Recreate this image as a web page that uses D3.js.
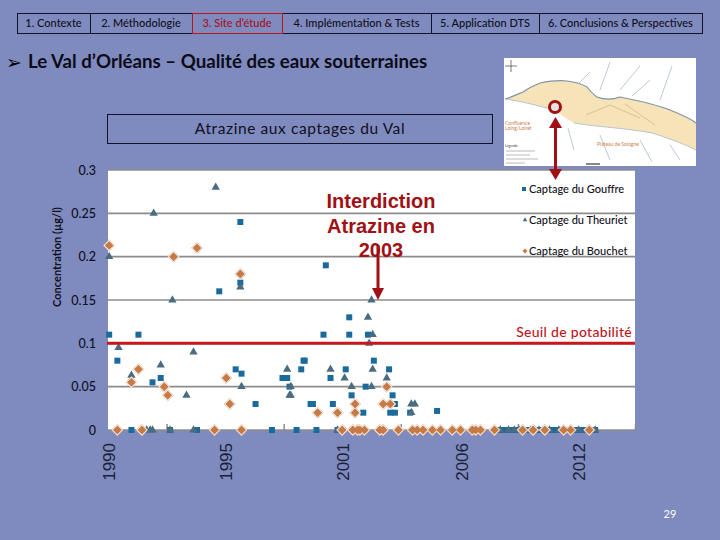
<!DOCTYPE html>
<html>
<head>
<meta charset="utf-8">
<script src="https://cdn.jsdelivr.net/npm/d3@7"></script>
<style>
  html, body { margin: 0; padding: 0; background: #7f8abe; }
  svg { display: block; }
</style>
</head>
<body>
<svg id="slide" font-family="Lato, Carlito, sans-serif"></svg>
<script>
'use strict';

const WIDTH = 720;
const HEIGHT = 540;

const menuLabels = ["1. Contexte", "2. Méthodologie", "3. Site d’étude", "4. Implémentation & Tests", "5. Application DTS", "6. Conclusions & Perspectives"];
const menuEdges = [17, 90, 192, 282, 431, 539, 702];
const ACTIVE_MENU = 2;

// x = numero de prelevement (axe par categories dans l'original), y = atrazine en ug/l
const yTicks = [0, 0.05, 0.1, 0.15, 0.2, 0.25, 0.3];
const xTickValues = [50, 150, 250, 350, 450];
const yearLabels = ["1990", "1995", "2001", "2006", "2012"];
const yearPositions = [6, 106, 206, 307, 407];
const SEUIL = 0.1;

const gouffreX = [1, 8, 26, 38, 45, 95, 113, 113, 109, 114, 126, 149, 153, 155, 165, 167, 168, 173, 175, 184, 186, 190, 192, 203, 206, 206, 208, 218, 220, 222, 227, 240, 241, 243, 245, 245, 258, 281];
const gouffreY = [0.11, 0.08, 0.11, 0.055, 0.06, 0.16, 0.24, 0.17, 0.07, 0.065, 0.03, 0.06, 0.06, 0.05, 0.07, 0.08, 0.08, 0.03, 0.03, 0.11, 0.19, 0.06, 0.03, 0.07, 0.13, 0.11, 0.04, 0.02, 0.05, 0.11, 0.08, 0.07, 0.02, 0.04, 0.03, 0.02, 0.02, 0.022];
const gouffreZeroX = [20, 53, 76, 140, 161, 178, 196, 332, 335, 338, 341, 344, 347, 350, 353, 356, 359, 362, 365, 368, 371, 374, 377, 380, 383, 386, 389, 392, 395, 398, 401, 404, 407, 410, 413, 416];

const theurietX = [92, 39, 1, 55, 113, 9, 20, 45, 73, 67, 114, 153, 155, 225, 222, 226, 223, 226, 190, 202, 208, 225, 238, 156, 156, 259, 262, 259];
const theurietY = [0.28, 0.25, 0.2, 0.15, 0.165, 0.095, 0.063, 0.075, 0.09, 0.04, 0.05, 0.07, 0.04, 0.15, 0.13, 0.11, 0.1, 0.07, 0.07, 0.06, 0.05, 0.05, 0.06, 0.05, 0.04, 0.03, 0.03, 0.02];
const theurietZeroX = [33, 36, 38, 53, 73, 196, 335, 342, 347, 351, 355, 361, 368, 377, 385, 394, 402, 410, 416];

const bouchetX = [1, 56, 76, 113, 26, 20, 48, 51, 101, 104, 179, 196, 211, 211, 235, 241, 238];
const bouchetY = [0.213, 0.2, 0.21, 0.18, 0.07, 0.055, 0.05, 0.04, 0.06, 0.03, 0.02, 0.02, 0.03, 0.02, 0.03, 0.03, 0.05];
const bouchetZeroX = [8, 29, 91, 114, 200, 209, 213, 215, 219, 232, 235, 248, 260, 264, 269, 277, 284, 294, 301, 311, 314, 318, 330, 354, 363, 373, 389, 395, 411];

const legendLabels = ["Captage du Gouffre", "Captage du Theuriet", "Captage du Bouchet"];
const noteLines = ["Interdiction", "Atrazine en", "2003"];

const svg = d3.select("svg#slide").attr("width", WIDTH).attr("height", HEIGHT);

const xScale = d3.scaleLinear().domain([0, 450]).range([108, 635]);
const yScale = d3.scaleLinear().domain([0, 0.3]).range([430, 170]);

const INK = "#101020";
const RED = "#c0141c";
const DARK_RED = "#a01014";
const BLUE = "#1b6a9c";
const SLATE = "#4a6c80";
const ORANGE = "#c67a46";
const GREY = "#8c8c8c";

const drawMenu = () => {
    const g = svg.append("g");
    menuLabels.forEach((label, i) => {
        const x0 = menuEdges[i], x1 = menuEdges[i + 1];
        g.append("rect")
         .attr("x", x0 + 0.5).attr("y", 13.5)
         .attr("width", x1 - x0).attr("height", 20)
         .attr("fill", "none")
         .attr("stroke", "#10132a").attr("stroke-width", 1);
        g.append("text")
         .attr("x", (x0 + x1) / 2).attr("y", 27)
         .attr("text-anchor", "middle")
         .attr("font-size", 11).attr("font-weight", 500)
         .attr("fill", i === ACTIVE_MENU ? "#a80f1e" : INK)
         .text(label);
    });
    const a = menuEdges[ACTIVE_MENU], b = menuEdges[ACTIVE_MENU + 1];
    g.append("rect")
     .attr("x", a + 0.5).attr("y", 13.5)
     .attr("width", b - a).attr("height", 20)
     .attr("fill", "none")
     .attr("stroke", RED).attr("stroke-width", 1);
};

const drawTitle = () => {
    svg.append("text").attr("x", 6).attr("y", 69)
       .attr("font-family", "DejaVu Sans").attr("font-size", 19).attr("fill", "#000")
       .text("➢");
    svg.append("text").attr("x", 28).attr("y", 68)
       .attr("font-size", 18.7).attr("font-weight", 700).attr("fill", "#0c0c18")
       .text("Le Val d’Orléans – Qualité des eaux souterraines");

    svg.append("rect")
       .attr("x", 107.5).attr("y", 114.5).attr("width", 385).attr("height", 29)
       .attr("fill", "none").attr("stroke", "#10132a");
    svg.append("text").attr("x", 300).attr("y", 134)
       .attr("text-anchor", "middle").attr("font-size", 15.5).attr("letter-spacing", 0.6).attr("fill", INK)
       .text("Atrazine aux captages du Val");
};

// petite carte de situation, simple decor
const drawMap = () => {
    const g = svg.append("g");
    g.append("rect").attr("x", 504).attr("y", 58).attr("width", 192).attr("height", 108).attr("fill", "#fff");
    g.append("path")
     .attr("d", "M505,99 C512,97 518,94 523,92 C530,87 535,85 540,83 C550,81 558,80 567,81 C576,82 582,84 587,87 C591,92 594,95 597,97 C605,100 612,100 620,97 C635,100 655,104 670,110 C680,114 690,118 696,123 L696,150 C682,143 668,138 652,133 C625,128 598,127 574,123 C565,118 560,114 555,110 C538,106 522,101 505,99 Z")
     .attr("fill", "#f6e3b8");
    g.append("path")
     .attr("d", "M505,99 C512,97 518,94 523,92 C530,87 535,85 540,83 C550,81 558,80 567,81 C576,82 582,84 587,87 C591,92 594,95 597,97 C605,100 612,100 620,97 C635,100 655,104 670,110 C680,114 690,118 696,123")
     .attr("fill", "none").attr("stroke", "#7f93a8").attr("stroke-width", 1.2);
    g.append("path")
     .attr("d", "M555,110 C538,106 522,101 505,99 M574,123 C598,127 625,128 652,133 C668,138 682,143 696,150 M568,128 L574,150 M590,72 L578,84 M610,62 L600,90 M640,66 L620,90 M650,80 L632,96 M660,100 L672,66 M600,135 L610,160 M640,140 L652,162 M670,145 L680,160")
     .attr("fill", "none").attr("stroke", "#a9bacb").attr("stroke-width", 0.8);
    g.append("path")
     .attr("d", "M586,115 L610,105 L640,118 M625,104 L655,125")
     .attr("fill", "none").attr("stroke", "#c9b48a").attr("stroke-width", 0.7);
    g.append("text").attr("x", 505).attr("y", 125).attr("font-size", 5).attr("fill", "#c9824a").text("Confluence");
    g.append("text").attr("x", 505).attr("y", 130).attr("font-size", 5).attr("fill", "#c9824a").text("Loing/Loiret");
    g.append("text").attr("x", 597).attr("y", 146).attr("font-size", 5).attr("fill", "#c9824a").text("Plateau de Sologne");
    g.append("text").attr("x", 505).attr("y", 147).attr("font-size", 3.5).attr("fill", "#333").text("Légende");
    g.append("path").attr("d", "M506,151 L535,151 M506,155 L530,155 M506,159 L538,159 M506,163 L525,163")
     .attr("stroke", "#8a8a8a").attr("stroke-width", 0.6);
    g.append("path").attr("d", "M586,164 L600,164").attr("stroke", "#111").attr("stroke-width", 1);
    g.append("path").attr("d", "M511,60 L511,72 M505,66 L517,66").attr("stroke", "#444").attr("stroke-width", 0.7);
    g.append("circle").attr("cx", 555).attr("cy", 107).attr("r", 5.5)
     .attr("fill", "#e8e4dc").attr("stroke", DARK_RED).attr("stroke-width", 3);
};

const drawPlot = () => {
    svg.append("rect")
       .attr("x", xScale.range()[0]).attr("y", yScale(0.3))
       .attr("width", xScale.range()[1] - xScale.range()[0]).attr("height", yScale(0) - yScale(0.3))
       .attr("fill", "#fff");

    svg.append("g").selectAll("line").data(yTicks).enter().append("line")
       .attr("x1", xScale(0)).attr("x2", xScale(450))
       .attr("y1", d => yScale(d)).attr("y2", d => yScale(d))
       .attr("stroke", GREY).attr("stroke-width", 1.6);

    const xAxis = d3.axisBottom(xScale).tickValues(xTickValues).tickSizeInner(-6).tickSizeOuter(0).tickFormat("");
    const xg = svg.append("g").attr("transform", "translate(0," + yScale(0) + ")").call(xAxis);
    xg.select(".domain").remove();
    xg.selectAll("line").attr("stroke", GREY).attr("stroke-width", 1.5);

    const yAxis = d3.axisLeft(yScale).tickValues(yTicks).tickSize(0).tickPadding(12).tickFormat(d => String(d));
    const yg = svg.append("g").attr("transform", "translate(" + xScale(0) + ",0)").call(yAxis);
    yg.select(".domain").remove();
    yg.selectAll("text").attr("font-family", "Lato").attr("font-size", 12.5).attr("fill", INK).attr("font-weight", 500);

    svg.append("g").selectAll("text").data(yearLabels).enter().append("text")
       .attr("transform", (d, i) => "translate(" + xScale(yearPositions[i]) + ",443) rotate(-90)")
       .attr("text-anchor", "end")
       .attr("font-family", "Liberation Sans").attr("font-size", 17).attr("fill", "#1a2238")
       .text(d => d);

    svg.append("text")
       .attr("transform", "translate(61,257) rotate(-90)")
       .attr("text-anchor", "middle")
       .attr("font-size", 11).attr("font-weight", 700).attr("fill", INK)
       .text("Concentration (µg/l)");
};

const triangle = d3.symbol().type(d3.symbolTriangle).size(30);
const diamond = d3.symbol().type(d3.symbolSquare).size(40);
const diamondRing = d3.symbol().type(d3.symbolSquare).size(66);

const drawSquares = (parent, xs, ys, size) => {
    parent.selectAll(null).data(xs).enter().append("rect")
          .attr("x", d => xScale(d) - size / 2)
          .attr("y", (d, i) => yScale(ys[i]) - size / 2)
          .attr("width", size).attr("height", size)
          .attr("fill", BLUE);
};
const drawTriangles = (parent, xs, ys) => {
    parent.selectAll(null).data(xs).enter().append("path")
          .attr("d", triangle)
          .attr("transform", (d, i) => "translate(" + xScale(d) + "," + yScale(ys[i]) + ")")
          .attr("fill", SLATE);
};
const drawDiamonds = (parent, xs, ys) => {
    const place = (d, i) => "translate(" + xScale(d) + "," + yScale(ys[i]) + ") rotate(45)";
    parent.selectAll(null).data(xs).enter().append("path")
          .attr("d", diamondRing).attr("transform", place)
          .attr("fill", "#fff").attr("stroke", "#e3bda2").attr("stroke-width", 0.7);
    parent.selectAll(null).data(xs).enter().append("path")
          .attr("d", diamond).attr("transform", place)
          .attr("fill", ORANGE);
};

const drawSeries = () => {
    const g = svg.append("g");
    drawSquares(g, gouffreX, gouffreY, 6);
    drawSquares(g, gouffreZeroX, gouffreZeroX.map(() => 0), 6);
    drawTriangles(g, theurietX, theurietY);
    drawTriangles(g, theurietZeroX, theurietZeroX.map(() => 0));
    drawDiamonds(g, bouchetX, bouchetY);
    drawDiamonds(g, bouchetZeroX, bouchetZeroX.map(() => 0));

    svg.append("line")
       .attr("x1", xScale(0) - 1).attr("x2", xScale(450))
       .attr("y1", yScale(SEUIL)).attr("y2", yScale(SEUIL))
       .attr("stroke", "#c8161c").attr("stroke-width", 3);
};

const drawLegend = () => {
    const rows = [189, 220, 251];
    const g = svg.append("g");
    legendLabels.forEach((label, i) => {
        g.append("text").attr("x", 529).attr("y", rows[i] + 4)
         .attr("font-size", 11).attr("font-weight", 500).attr("fill", INK).text(label);
    });
    g.append("rect").attr("x", 522).attr("y", rows[0] - 2).attr("width", 4).attr("height", 4).attr("fill", BLUE);
    g.append("path").attr("d", d3.symbol().type(d3.symbolTriangle).size(9))
     .attr("transform", "translate(525," + rows[1] + ")").attr("fill", SLATE);
    g.append("path").attr("d", d3.symbol().type(d3.symbolSquare).size(12))
     .attr("transform", "translate(525," + rows[2] + ") rotate(45)").attr("fill", ORANGE);

    g.append("text").attr("x", 632).attr("y", 337).attr("text-anchor", "end")
     .attr("font-size", 14).attr("letter-spacing", 0.3).attr("fill", RED).attr("font-weight", 500)
     .text("Seuil de potabilité");
};

const drawNote = () => {
    svg.append("g").selectAll("text").data(noteLines).enter().append("text")
       .attr("x", 381).attr("y", (d, i) => 208 + i * 24.5)
       .attr("text-anchor", "middle")
       .attr("font-family", "Liberation Sans").attr("font-weight", 700).attr("font-size", 20).attr("fill", DARK_RED)
       .text(d => d);

    svg.append("line").attr("x1", 378).attr("x2", 378).attr("y1", 245).attr("y2", 290)
       .attr("stroke", DARK_RED).attr("stroke-width", 3);
    svg.append("path").attr("d", "M372,288 L384,288 L378,300 Z").attr("fill", DARK_RED);

    svg.append("line").attr("x1", 555.5).attr("x2", 555.5).attr("y1", 124).attr("y2", 172)
       .attr("stroke", DARK_RED).attr("stroke-width", 3);
    svg.append("path").attr("d", "M549,128 L562,128 L555.5,117 Z").attr("fill", DARK_RED);
    svg.append("path").attr("d", "M549,169 L562,169 L555.5,180 Z").attr("fill", DARK_RED);
};

drawMenu();
drawTitle();
drawMap();
drawPlot();
drawSeries();
drawLegend();
drawNote();

svg.append("text").attr("x", 670).attr("y", 518).attr("text-anchor", "middle")
   .attr("font-size", 11).attr("fill", "#fff").text("29");
</script>
</body>
</html>
